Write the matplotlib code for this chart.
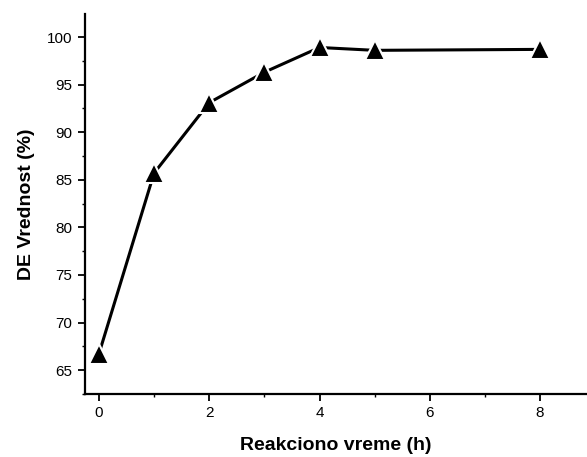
import matplotlib
matplotlib.use("Agg")
import matplotlib.pyplot as plt
from matplotlib.ticker import MultipleLocator

plt.rcParams['font.family'] = ['Liberation Sans', 'DejaVu Sans']

# reaction time (h) and DE value (%)
vreme = [0, 1, 2, 3, 4, 5, 8]
de_vrednost = [66.7, 85.7, 93.1, 96.3, 98.9, 98.6, 98.7]

x_ticks = [0, 2, 4, 6, 8]
y_ticks = [65, 70, 75, 80, 85, 90, 95, 100]

fig = plt.figure(figsize=(5.87, 4.57), dpi=100)
ax = fig.add_axes([0.145, 0.138, 0.855, 0.831])

ax.plot(vreme, de_vrednost, color='black', linewidth=2.2, marker='^',
        markersize=14, markerfacecolor='black', markeredgecolor='white',
        markeredgewidth=1.5, zorder=3)

ax.set_xlim(-0.25, 8.85)
ax.set_ylim(62.5, 102.4)
ax.set_xticks(x_ticks)
ax.set_yticks(y_ticks)
ax.xaxis.set_minor_locator(MultipleLocator(1))
ax.yaxis.set_minor_locator(MultipleLocator(2.5))

for side in ['top', 'right']:
    ax.spines[side].set_visible(False)
for side in ['left', 'bottom']:
    ax.spines[side].set_linewidth(1.6)

ax.tick_params(which='major', direction='out', length=5, width=1.3, labelsize=11, pad=4)
ax.tick_params(which='minor', direction='out', length=2.5, width=1.0)

ax.set_xlabel("Reakciono vreme (h)", fontsize=14, fontweight='bold', labelpad=12)
ax.set_ylabel("DE Vrednost (%)", fontsize=14, fontweight='bold', labelpad=9)

fig.savefig("out.png", dpi=100)
